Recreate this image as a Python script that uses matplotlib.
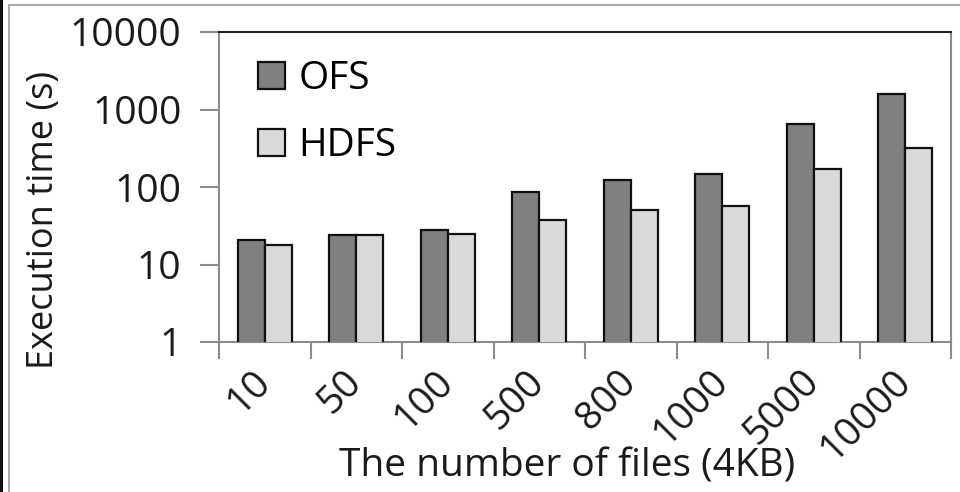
import matplotlib
matplotlib.use("Agg")
import matplotlib.pyplot as plt
import numpy as np
from matplotlib.lines import Line2D
from matplotlib.patches import Patch, Rectangle

categories = ["10", "50", "100", "500", "800", "1000", "5000", "10000"]
ofs = [20.5, 24, 28, 85, 124, 147, 644, 1585]
hdfs = [18, 24, 25, 37, 51, 57, 172, 319]
yticks = [1, 10, 100, 1000, 10000]
ytick_labels = ["1", "10", "100", "1000", "10000"]

plt.rcParams["font.family"] = ["Open Sans", "DejaVu Sans"]
FS = 28

W, H = 960, 492
fig = plt.figure(figsize=(W / 100, H / 100), dpi=100)
ax = fig.add_axes([219 / W, 1 - 342 / H, (951 - 219) / W, (342 - 32) / H])

x = np.arange(len(categories))
bw = 0.295
edge = "#111111"
ax.bar(x - bw / 2, ofs, bw, color="#808080", edgecolor=edge, linewidth=1.6, label="OFS", zorder=3)
ax.bar(x + bw / 2, hdfs, bw, color="#d9d9d9", edgecolor=edge, linewidth=1.6, label="HDFS", zorder=3)

ax.set_yscale("log")
ax.set_ylim(1, 10000)
ax.set_xlim(-0.5, len(categories) - 0.5)
ax.set_yticks(yticks)
ax.set_yticklabels(ytick_labels, fontsize=FS, color="#1a1a1a")
ax.yaxis.set_minor_locator(matplotlib.ticker.NullLocator())
ax.tick_params(axis="y", length=14, width=1.5, color="#8c8c8c", pad=13)

# category ticks sit on the group boundaries, labels at group centres
ax.set_xticks(np.arange(len(categories) + 1) - 0.5)
ax.set_xticklabels([])
ax.tick_params(axis="x", length=12, width=1.5, color="#8c8c8c")
for i, lab in enumerate(categories):
    ax.text(i + 0.0, -0.11, lab, transform=ax.get_xaxis_transform(),
            rotation=45, rotation_mode="anchor", ha="right", va="center",
            fontsize=FS, color="#1a1a1a")

for side in ("left", "bottom", "right"):
    ax.spines[side].set_color("#8c8c8c")
    ax.spines[side].set_linewidth(1.5)
ax.spines["top"].set_color("#222222")
ax.spines["top"].set_linewidth(1.5)

fig.text(44 / W, 1 - 220 / H, "Execution time (s)", rotation=90, ha="center", va="center",
         fontsize=26, color="#1a1a1a")
fig.text(567 / W, 1 - 467 / H, "The number of files (4KB)", ha="center", va="center",
         fontsize=FS, color="#1a1a1a")

handles = [Patch(facecolor="#808080", edgecolor=edge, linewidth=1.6),
           Patch(facecolor="#d9d9d9", edgecolor=edge, linewidth=1.6)]
leg = ax.legend(handles, ["OFS", "HDFS"], loc="upper left", bbox_to_anchor=(0.053, 0.91),
                frameon=False, fontsize=FS, handlelength=0.7, handleheight=0.7,
                handletextpad=0.35, labelspacing=0.75, borderaxespad=0, borderpad=0)

# outer frame
fig.add_artist(Rectangle((0, 0), 2.5 / W, 1, transform=fig.transFigure, color="#111111", lw=0))
fig.add_artist(Line2D([9 / W, 9 / W], [0, 1 - 5 / H], transform=fig.transFigure, color="#aaaaaa", lw=1.5))
fig.add_artist(Line2D([9 / W, 1], [1 - 5 / H, 1 - 5 / H], transform=fig.transFigure, color="#aaaaaa", lw=1.5))

fig.savefig("out.png", dpi=100)
